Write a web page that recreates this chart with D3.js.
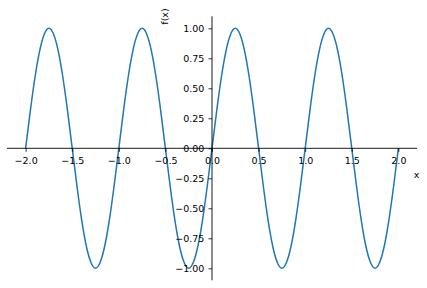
<!DOCTYPE html>
<html><head><meta charset="utf-8">
<script src="https://cdn.jsdelivr.net/npm/d3@7"></script>
<style>body{margin:0;background:#fff}svg{display:block}text{font-family:"DejaVu Sans",sans-serif;fill:#000}</style>
</head><body><svg id="c" width="427" height="288"></svg>
<script>
const xValues = [-2.00,-1.95,-1.90,-1.85,-1.80,-1.75,-1.70,-1.65,-1.60,-1.55,-1.50,-1.45,-1.40,-1.35,-1.30,-1.25,-1.20,-1.15,-1.10,-1.05,
-1.00,-0.95,-0.90,-0.85,-0.80,-0.75,-0.70,-0.65,-0.60,-0.55,-0.50,-0.45,-0.40,-0.35,-0.30,-0.25,-0.20,-0.15,-0.10,-0.05,
0.00,0.05,0.10,0.15,0.20,0.25,0.30,0.35,0.40,0.45,0.50,0.55,0.60,0.65,0.70,0.75,0.80,0.85,0.90,0.95,
1.00,1.05,1.10,1.15,1.20,1.25,1.30,1.35,1.40,1.45,1.50,1.55,1.60,1.65,1.70,1.75,1.80,1.85,1.90,1.95,2.00];
const yValues = [0,0.31,0.59,0.81,0.95,1,0.95,0.81,0.59,0.31,0,-0.31,-0.59,-0.81,-0.95,-1,-0.95,-0.81,-0.59,-0.31,
0,0.31,0.59,0.81,0.95,1,0.95,0.81,0.59,0.31,0,-0.31,-0.59,-0.81,-0.95,-1,-0.95,-0.81,-0.59,-0.31,
0,0.31,0.59,0.81,0.95,1,0.95,0.81,0.59,0.31,0,-0.31,-0.59,-0.81,-0.95,-1,-0.95,-0.81,-0.59,-0.31,
0,0.31,0.59,0.81,0.95,1,0.95,0.81,0.59,0.31,0,-0.31,-0.59,-0.81,-0.95,-1,-0.95,-0.81,-0.59,-0.31,0];
const xTicks = [-2.0,-1.5,-1.0,-0.5,0.0,0.5,1.0,1.5,2.0];
const xTickLabels = ["\u22122.0","\u22121.5","\u22121.0","\u22120.5","0.0","0.5","1.0","1.5","2.0"];
const yTicks = [-1.0,-0.75,-0.5,-0.25,0,0.25,0.5,0.75,1.0];
const yTickLabels = ["\u22121.00","\u22120.75","\u22120.50","\u22120.25","0.00","0.25","0.50","0.75","1.00"];
const xDomain = [-2.2, 2.2];
const yDomain = [-1.1, 1.1];

const svg = d3.select("#c");
const x = d3.scaleLinear().domain(xDomain).range([7, 417]);
const y = d3.scaleLinear().domain(yDomain).range([280.3, 16.3]);
const fs = 9.5;

const data = xValues.map((v,i)=>[v,yValues[i]]);
svg.append("path").datum(data)
  .attr("d", d3.line().x(d=>x(d[0])).y(d=>y(d[1])).curve(d3.curveNatural))
  .attr("fill","none").attr("stroke","#1f77b4").attr("stroke-width",1.5);

const xAxis = d3.axisBottom(x).tickValues(xTicks).tickFormat((d,i)=>xTickLabels[i]).tickSize(3.5).tickPadding(5.5);
const gx = svg.append("g").attr("transform",`translate(0,${y(0)})`).call(xAxis);
gx.select(".domain").attr("stroke","#000").attr("stroke-width",0.9).attr("d",`M${x(xDomain[0])},0H${x(xDomain[1])}`);
gx.selectAll(".tick line").attr("stroke","#000").attr("stroke-width",0.8);
gx.selectAll("text").attr("font-size",fs).attr("font-family","DejaVu Sans").attr("fill","#000");

const yAxis = d3.axisLeft(y).tickValues(yTicks).tickFormat((d,i)=>yTickLabels[i]).tickSize(3.5).tickPadding(4.2);
const gy = svg.append("g").attr("transform",`translate(${x(0)},0)`).call(yAxis);
gy.select(".domain").attr("stroke","#000").attr("stroke-width",0.9).attr("d",`M0,${y(yDomain[0])}V${y(yDomain[1])}`);
gy.selectAll(".tick line").attr("stroke","#000").attr("stroke-width",0.8);
gy.selectAll("text").attr("font-size",fs).attr("font-family","DejaVu Sans").attr("fill","#000");

svg.append("text").attr("x",416.5).attr("y",178).attr("text-anchor","middle").attr("font-size",fs).text("x");
svg.append("text").attr("transform","translate(167.5,16.5) rotate(-90)").attr("text-anchor","middle").attr("font-size",fs).text("f(x)");
</script></body></html>
